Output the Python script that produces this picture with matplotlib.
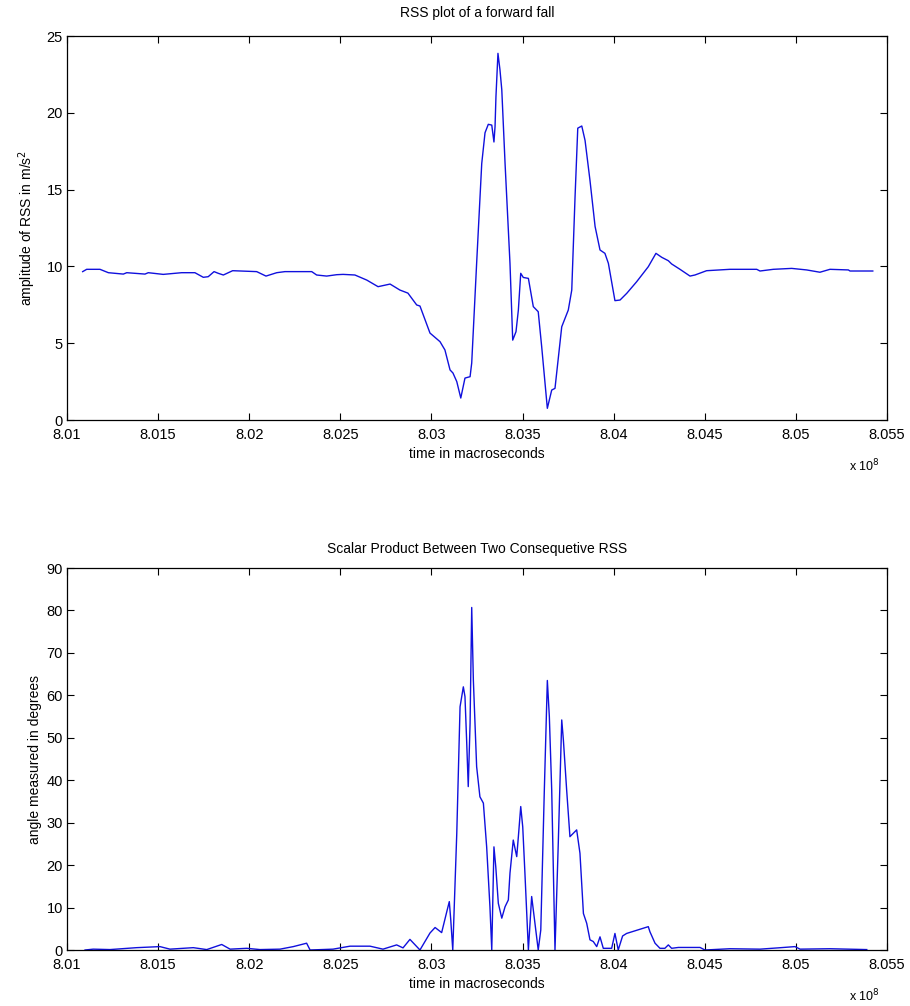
import matplotlib
matplotlib.use("Agg")
import matplotlib.pyplot as plt
from matplotlib.ticker import MultipleLocator, FixedLocator

plt.rcParams['font.family'] = ['Liberation Sans', 'DejaVu Sans']

# time axis in units of 1e8 microseconds
rss_time = [8.01086, 8.01108, 8.01181, 8.01227, 8.01309, 8.01328, 8.01428, 8.01446, 8.01528, 8.01629,
            8.01702, 8.01748, 8.01775, 8.01807, 8.01830, 8.01858, 8.01909, 8.02041, 8.02092, 8.02151,
            8.02196, 8.02343, 8.02370, 8.02425, 8.02480, 8.02515, 8.02580, 8.02645, 8.02707, 8.02773,
            8.02827, 8.02871, 8.02919, 8.02937, 8.02992, 8.03047, 8.03074, 8.03102, 8.03118, 8.03139,
            8.03161, 8.03184, 8.03212, 8.03221, 8.03248, 8.03276, 8.03294, 8.03312, 8.03331, 8.03343,
            8.03349, 8.03354, 8.03365, 8.03376, 8.03386, 8.03404, 8.03431, 8.03446, 8.03464, 8.03477,
            8.03490, 8.03504, 8.03532, 8.03559, 8.03586, 8.03605, 8.03636, 8.03660, 8.03678, 8.03715,
            8.03751, 8.03770, 8.03788, 8.03803, 8.03825, 8.03843, 8.03870, 8.03898, 8.03925, 8.03952,
            8.03971, 8.04007, 8.04035, 8.04072, 8.04126, 8.04190, 8.04232, 8.04264, 8.04300, 8.04318,
            8.04364, 8.04419, 8.04446, 8.04510, 8.04638, 8.04785, 8.04803, 8.04876, 8.04977, 8.05059,
            8.05132, 8.05187, 8.05288, 8.05297, 8.05422]
rss_value = [9.66, 9.81, 9.81, 9.59, 9.50, 9.59, 9.50, 9.59, 9.48, 9.59,
             9.59, 9.29, 9.33, 9.66, 9.55, 9.44, 9.72, 9.66, 9.37, 9.59,
             9.66, 9.66, 9.44, 9.37, 9.46, 9.48, 9.44, 9.11, 8.68, 8.85,
             8.46, 8.26, 7.49, 7.42, 5.66, 5.10, 4.56, 3.26, 3.06, 2.50,
             1.43, 2.73, 2.82, 3.71, 10.2, 16.7, 18.7, 19.25, 19.2, 18.1,
             19.1, 21.05, 23.87, 22.8, 21.5, 16.7, 10.2, 5.2, 5.75, 7.16,
             9.55, 9.28, 9.22, 7.38, 7.05, 4.77, 0.76, 1.95, 2.06, 6.07,
             7.16, 8.46, 14.5, 19.0, 19.14, 18.2, 15.6, 12.6, 11.07, 10.85,
             10.2, 7.77, 7.81, 8.25, 9.0, 9.98, 10.85, 10.59, 10.37, 10.16,
             9.81, 9.37, 9.44, 9.72, 9.81, 9.81, 9.70, 9.81, 9.87, 9.77,
             9.62, 9.81, 9.77, 9.70, 9.70]

angle_time = [8.01099, 8.01144, 8.01236, 8.01382, 8.01510, 8.01565, 8.01693, 8.01767, 8.01849, 8.01895,
              8.01986, 8.02059, 8.02169, 8.02242, 8.02315, 8.02334, 8.02460, 8.02553, 8.02663, 8.02734,
              8.02809, 8.02844, 8.02882, 8.02926, 8.02937, 8.02992, 8.03020, 8.03056, 8.03084, 8.03098,
              8.03106, 8.03117, 8.03139, 8.03157, 8.03175, 8.03184, 8.03193, 8.03202, 8.03212, 8.03221,
              8.03230, 8.03248, 8.03266, 8.03285, 8.03303, 8.03321, 8.03331, 8.03343, 8.03353, 8.03367,
              8.03386, 8.03404, 8.03422, 8.03431, 8.03449, 8.03468, 8.03477, 8.03490, 8.03501, 8.03513,
              8.03532, 8.03550, 8.03568, 8.03586, 8.03600, 8.03619, 8.03636, 8.03647, 8.03660, 8.03678,
              8.03696, 8.03715, 8.03724, 8.03742, 8.03760, 8.03797, 8.03815, 8.03834, 8.03852, 8.03870,
              8.03888, 8.03907, 8.03925, 8.03943, 8.03969, 8.03989, 8.04007, 8.04025, 8.04049, 8.04071,
              8.04190, 8.04199, 8.04227, 8.04254, 8.04281, 8.04300, 8.04318, 8.04355, 8.04474, 8.04501,
              8.04638, 8.04803, 8.04902, 8.04995, 8.05023, 8.05187, 8.05389]
angle_value = [0.0, 0.2, 0.1, 0.55, 0.8, 0.2, 0.55, 0.1, 1.3, 0.2,
               0.4, 0.1, 0.2, 0.8, 1.6, 0.0, 0.2, 0.9, 0.9, 0.2,
               1.2, 0.5, 2.5, 0.5, 0.0, 4.0, 5.3, 4.1, 9.0, 11.4,
               7.1, 0.0, 27.5, 57.3, 62.0, 59.7, 49.5, 38.5, 53.4, 80.7,
               63.6, 43.2, 36.1, 34.6, 24.3, 10.2, 0.0, 24.3, 19.6, 11.0,
               7.5, 10.2, 11.8, 18.1, 25.9, 22.0, 26.7, 33.8, 29.0, 18.1,
               0.0, 12.6, 6.3, 0.0, 4.7, 36.9, 63.5, 55.0, 37.7, 0.0,
               25.1, 54.2, 49.5, 37.7, 26.7, 28.3, 22.8, 8.6, 6.3, 2.4,
               2.0, 0.8, 3.1, 0.4, 0.4, 0.4, 3.9, 0.0, 3.3, 3.9,
               5.5, 4.3, 1.6, 0.4, 0.4, 1.2, 0.4, 0.6, 0.6, 0.0,
               0.3, 0.2, 0.5, 0.8, 0.2, 0.3, 0.1]

x_ticks = [8.01, 8.015, 8.02, 8.025, 8.03, 8.035, 8.04, 8.045, 8.05, 8.055]
x_ticklabels = ['8.01', '8.015', '8.02', '8.025', '8.03', '8.035', '8.04', '8.045', '8.05', '8.055']

W, H = 910, 1006
fig = plt.figure(figsize=(W / 100, H / 100), dpi=100)
fs = 10

def fx(px):
    return px / W

def fy(py):
    return 1 - py / H

ax1 = fig.add_axes([fx(67), fy(420), fx(887) - fx(67), fy(36) - fy(420)])
ax2 = fig.add_axes([fx(67), fy(950), fx(887) - fx(67), fy(568) - fy(950)])

ax1.plot(rss_time, rss_value, color='#1010dd', lw=1.0)
ax2.plot(angle_time, angle_value, color='#1010dd', lw=1.0)

ax1.set_ylim(0, 25)
ax1.yaxis.set_major_locator(MultipleLocator(5))
ax2.set_ylim(0, 90)
ax2.yaxis.set_major_locator(MultipleLocator(10))

for ax in (ax1, ax2):
    ax.set_xlim(8.01, 8.055)
    ax.xaxis.set_major_locator(FixedLocator(x_ticks))
    ax.set_xticklabels(x_ticklabels)
    ax.tick_params(direction='in', length=5, width=0.8, top=True, right=True,
                   labelsize=10.5, colors='black', pad=3)
    ax.tick_params(axis='x', pad=6)
    for s in ax.spines.values():
        s.set_linewidth(0.9)
    ax.set_xlabel('time in macroseconds', fontsize=fs, labelpad=3)
    ax.annotate(r'x 10$^8$', xy=(1.0, 0.0), xycoords='axes fraction',
                xytext=(-7, -46), textcoords='offset pixels',
                fontsize=fs - 1, ha='right', va='center')

ax1.set_title('RSS plot of a forward fall', fontsize=fs, pad=14)
ax1.set_ylabel('amplitude of RSS in m/s$^2$', fontsize=fs, labelpad=6)
ax2.set_title('Scalar Product Between Two Consequetive RSS', fontsize=fs, pad=11)
ax2.set_ylabel('angle measured in degrees', fontsize=fs, labelpad=3)

fig.savefig('out.png', dpi=100, facecolor='white')
